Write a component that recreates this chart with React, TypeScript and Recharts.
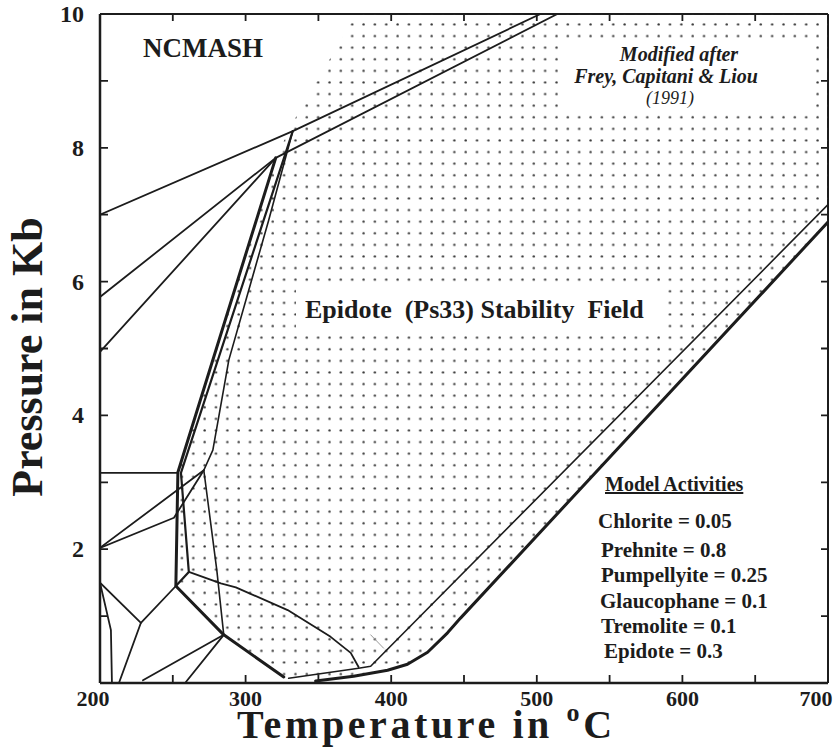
import React from "react";
import { ScatterChart, Scatter, XAxis, YAxis, Customized } from "recharts";

type Pt = [number, number]; // [temperature °C, pressure kb]

// axis ticks
const tempTicks = [200, 250, 300, 350, 400, 450, 500, 550, 600, 650, 700];
const presTicks = [0, 1, 2, 3, 4, 5, 6, 7, 8, 9, 10];

// reaction lines
const lineA: Pt[] = [[200, 7.0], [332.4, 8.25], [502.5, 10]];
const lineB: Pt[] = [[320.7, 7.85], [514.1, 10]];
const lineC: Pt[] = [[200, 5.77], [320.7, 7.85]];
const lineD: Pt[] = [[200, 4.95], [320.7, 7.85]];
const boldLine: Pt[] = [[320.7, 7.85], [253.5, 3.15], [252.1, 1.45], [285, 0.72], [326.2, 0.09]];
const line2: Pt[] = [[332.4, 8.25], [255.6, 3.14], [261, 1.66], [252.1, 1.45]];
const line3: Pt[] = [[332.4, 8.25], [315.9, 6.92], [288.5, 4.83], [277.5, 3.48], [271.3, 3.18], [280.2, 1.69], [285, 0.72]];
const flatLine: Pt[] = [[200, 3.14], [253.5, 3.14]];
const fromTwoA: Pt[] = [[200, 2.02], [271.3, 3.18]];
const fromTwoB: Pt[] = [[200, 2.02], [250.8, 2.47], [271.3, 3.18]];
const curveF: Pt[] = [[261, 1.66], [283, 1.49], [293.3, 1.43], [328.9, 1.09], [358.4, 0.69], [372.2, 0.45], [377.6, 0.24]];
const lowN1: Pt[] = [[252.1, 1.45], [228.1, 0.9], [213, 0]];
const lowN2: Pt[] = [[200, 1.5], [228.1, 0.9]];
const lowN3: Pt[] = [[200, 1.5], [207.5, 0.79], [208.2, 0]];
const lowN4: Pt[] = [[285, 0.72], [229.5, 0.04]];
const lowN5: Pt[] = [[285, 0.72], [259, 0.015]];
const bottomThin: Pt[] = [[329.6, 0.07], [377.6, 0.22], [385.9, 0.25], [700, 7.15]];
const bottomBold: Pt[] = [[348.1, 0.03], [374.2, 0.1], [397.5, 0.19], [411.2, 0.28], [425, 0.46], [438.7, 0.75], [447.6, 0.97], [700, 6.89]];
const greyTick: Pt[] = [[385.9, 0.72], [394.8, 0.52]];

// outline of the stippled epidote field
const epidoteField: Pt[] = [
  [252.1, 1.45], [285, 0.72], [326.2, 0.09], [348.1, 0.03], [374.2, 0.1], [397.5, 0.19],
  [411.2, 0.28], [425, 0.46], [438.7, 0.75], [447.6, 0.97], [700, 6.89], [700, 10],
  [376, 10], [349, 9.0], [333, 8.4], [320.7, 7.85], [253.5, 3.15],
];

const activities = [
  "Chlorite = 0.05",
  "Prehnite = 0.8",
  "Pumpellyite = 0.25",
  "Glaucophane = 0.1",
  "Tremolite = 0.1",
  "Epidote = 0.3",
];

const FONT = '"Liberation Serif", "Times New Roman", Times, serif';
const INK = "#1c1c1c";

// plot frame in pixels (margins + axis sizes below)
const FRAME = { left: 100, right: 828, top: 14, bottom: 683 };
const xOf = (t: number) => FRAME.left + ((t - 200) / 500) * (FRAME.right - FRAME.left);
const yOf = (p: number) => FRAME.bottom - (p / 10) * (FRAME.bottom - FRAME.top);

// white label boxes cut out of the stipple (pixels)
const labelBoxes = [
  { x: 558, y: 38, w: 252, h: 72 },
  { x: 296, y: 284, w: 366, h: 52 },
];

const series: { pts: Pt[]; w: number; color?: string }[] = [
  { pts: lineA, w: 1.8 },
  { pts: lineB, w: 1.8 },
  { pts: lineC, w: 1.8 },
  { pts: lineD, w: 1.8 },
  { pts: line3, w: 1.6 },
  { pts: line2, w: 2.2 },
  { pts: boldLine, w: 3 },
  { pts: flatLine, w: 1.8 },
  { pts: fromTwoA, w: 1.8 },
  { pts: fromTwoB, w: 1.8 },
  { pts: curveF, w: 1.8 },
  { pts: lowN1, w: 1.8 },
  { pts: lowN2, w: 1.8 },
  { pts: lowN3, w: 1.8 },
  { pts: lowN4, w: 1.8 },
  { pts: lowN5, w: 1.8 },
  { pts: bottomThin, w: 1.6 },
  { pts: bottomBold, w: 3 },
  { pts: greyTick, w: 1, color: "#999" },
];

const toRows = (pts: Pt[]) => pts.map(([t, p]) => ({ t, p }));

function PolyPath(props: any) {
  const { points, w, color, area } = props;
  if (!points || !points.length) return null;
  const d = points.map((pt: any, i: number) => `${i ? "L" : "M"}${pt.x},${pt.y}`).join(" ");
  if (area) {
    const holes = labelBoxes.map((b) => `M${b.x},${b.y} h${b.w} v${b.h} h${-b.w} Z`).join(" ");
    return <path d={`${d} Z ${holes}`} fill="url(#stipple)" fillRule="evenodd" stroke="none" />;
  }
  return (
    <path d={d} fill="none" stroke={color || INK} strokeWidth={w} strokeLinejoin="round" strokeLinecap="round" />
  );
}

const noDot = () => <g />;

const renderBottomTick = (props: any) => {
  const { x, y, payload } = props;
  const v = payload.value;
  const shift = v === 200 ? -7 : v === 700 ? -12 : 0;
  if (v % 100 !== 0) return <g key={`b${v}`} />;
  return (
    <text key={`b${v}`} x={x + shift} y={y + 23} textAnchor="middle" fontFamily={FONT} fontWeight="bold" fontSize={22} fill={INK}>
      {v}
    </text>
  );
};

const renderLeftTick = (props: any) => {
  const { x, y, payload } = props;
  const v = payload.value;
  if (!(v > 0 && v % 2 === 0)) return <g key={`l${v}`} />;
  return (
    <text key={`l${v}`} x={x - 16} y={y + 8} textAnchor="end" fontFamily={FONT} fontWeight="bold" fontSize={24} fill={INK}>
      {v}
    </text>
  );
};

function Defs() {
  return (
    <defs>
      <pattern id="stipple" patternUnits="userSpaceOnUse" x={-5} y={-4} width={11.35} height={11.6}>
        <circle cx={5.35} cy={5.2} r={1.2} fill="#3a3a3a" />
      </pattern>
    </defs>
  );
}

function FrameTicks() {
  const d = [
    ...tempTicks.map((t) => `M${xOf(t)},${FRAME.bottom} v-8 M${xOf(t)},${FRAME.top} v7`),
    ...presTicks.map((p) => `M${FRAME.left},${yOf(p)} h8 M${FRAME.right},${yOf(p)} h-7`),
  ].join(" ");
  return <path d={d} stroke={INK} strokeWidth={1.8} fill="none" />;
}

function Notes() {
  return (
    <g fontFamily={FONT} fill={INK}>
      <FrameTicks />
      <text x={143} y={57} fontSize={27} fontWeight="bold">NCMASH</text>
      <text x={679} y={61} fontSize={20} fontWeight="bold" fontStyle="italic" textAnchor="middle">Modified after</text>
      <text x={666} y={83} fontSize={20} fontWeight="bold" fontStyle="italic" textAnchor="middle">Frey, Capitani &amp; Liou</text>
      <text x={670} y={104} fontSize={18} fontStyle="italic" textAnchor="middle">(1991)</text>
      <text x={305} y={318} fontSize={26} fontWeight="bold" style={{ whiteSpace: "pre" }}>
        {"Epidote  (Ps33) Stability  Field"}
      </text>
      <text x={605} y={491} fontSize={20} fontWeight="bold" textDecoration="underline">Model Activities</text>
      {activities.map((a, i) => (
        <text key={a} x={[598, 601, 601, 600, 601, 604][i]} y={[528, 557, 582, 608, 633, 658][i]} fontSize={21} fontWeight="bold">
          {a}
        </text>
      ))}
      <text transform="translate(42,357) rotate(-90)" textAnchor="middle" fontSize={44} fontWeight="bold">
        Pressure in Kb
      </text>
      <text x={237} y={738} fontSize={40} fontWeight="bold" letterSpacing={3.6}>
        {"Temperature in "}
        <tspan dy={-17} fontSize={26}>o</tspan>
        <tspan dy={17}>C</tspan>
      </text>
    </g>
  );
}

export default function App() {
  return (
    <div style={{ position: "absolute", left: 0, top: 0, width: 833, height: 747, background: "#fff" }}>
      <ScatterChart width={833} height={747} margin={{ top: 12, right: 3, bottom: 34, left: 60 }}>
        <Customized component={<Defs />} />
        <XAxis
          type="number"
          dataKey="t"
          domain={[200, 700]}
          ticks={tempTicks}
          allowDataOverflow
          height={30}
          tickSize={0}
          tickMargin={0}
          tickLine={false}
          axisLine={{ stroke: INK, strokeWidth: 2.5 }}
          tick={renderBottomTick}
          interval={0}
        />
        <XAxis
          xAxisId="top"
          orientation="top"
          type="number"
          dataKey="t"
          domain={[200, 700]}
          ticks={tempTicks}
          height={2}
          tickLine={false}
          axisLine={{ stroke: INK, strokeWidth: 2 }}
          tick={false}
        />
        <YAxis
          type="number"
          dataKey="p"
          domain={[0, 10]}
          ticks={presTicks}
          allowDataOverflow
          width={40}
          tickSize={0}
          tickMargin={0}
          tickLine={false}
          axisLine={{ stroke: INK, strokeWidth: 2.5 }}
          tick={renderLeftTick}
          interval={0}
        />
        <YAxis
          yAxisId="right"
          orientation="right"
          type="number"
          dataKey="p"
          domain={[0, 10]}
          ticks={presTicks}
          width={2}
          tickLine={false}
          axisLine={{ stroke: INK, strokeWidth: 2 }}
          tick={false}
        />
        <Scatter
          data={toRows(epidoteField)}
          line={<PolyPath area />}
          lineType="joint"
          shape={noDot}
          isAnimationActive={false}
        />
        {series.map((s, i) => (
          <Scatter
            key={i}
            data={toRows(s.pts)}
            line={<PolyPath w={s.w} color={s.color} />}
            lineType="joint"
            shape={noDot}
            isAnimationActive={false}
          />
        ))}
        <Customized component={<Notes />} />
      </ScatterChart>
    </div>
  );
}
